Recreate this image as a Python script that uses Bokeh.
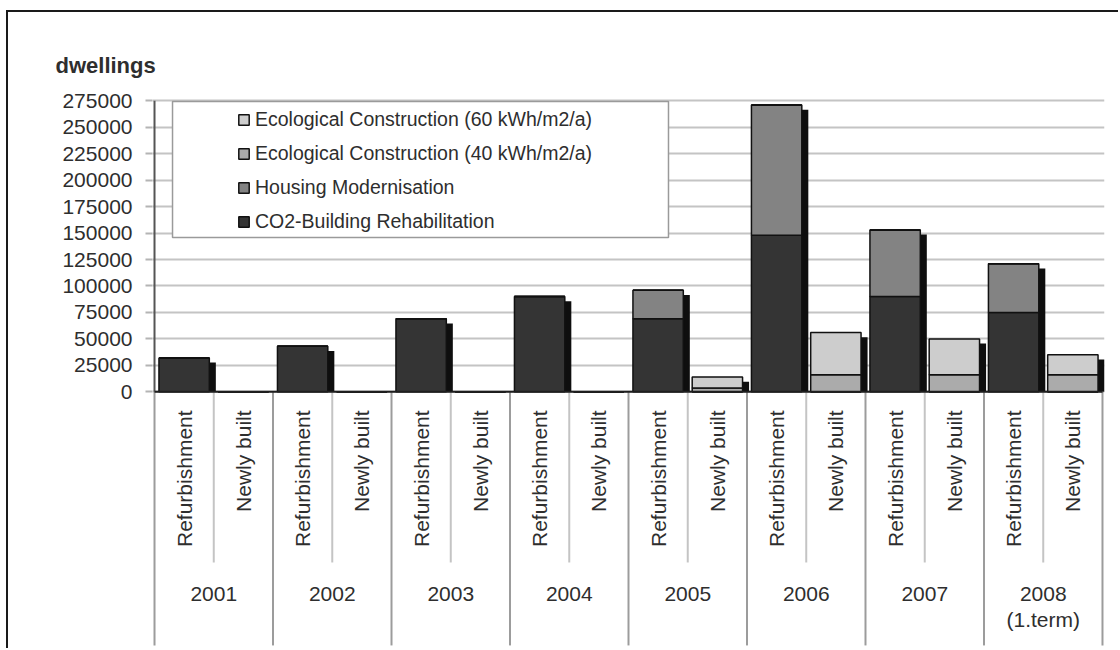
import numpy as np
from bokeh.plotting import figure
from bokeh.models import (ColumnDataSource, Range1d, FixedTicker, Legend, LegendItem,
                          NumeralTickFormatter)
from bokeh.core.properties import value
from bokeh.embed import file_html
from bokeh.resources import INLINE

# ---- data -------------------------------------------------------------
years = ["2001", "2002", "2003", "2004", "2005", "2006", "2007", "2008\n(1.term)"]
kinds = ["Refurbishment", "Newly built"]

co2_rehab = [32000, 43000, 69000, 90000, 69000, 148000, 90000, 75000]        # refurbishment
housing_mod = [0, 0, 0, 0, 27000, 123000, 63000, 46000]                       # refurbishment
eco_40 = [0, 0, 0, 0, 3500, 16000, 16000, 16000]                             # newly built
eco_60 = [0, 0, 0, 0, 10500, 40000, 34000, 19000]                            # newly built

series = ["co2", "housing", "eco40", "eco60"]
series_labels = {
    "co2": "CO2-Building Rehabilitation",
    "housing": "Housing Modernisation",
    "eco40": "Ecological Construction (40 kWh/m2/a)",
    "eco60": "Ecological Construction (60 kWh/m2/a)",
}
colors = {"co2": "#343434", "housing": "#838383", "eco40": "#ababab", "eco60": "#cdcdcd"}
y_ticks = list(range(0, 275001, 25000))

# ---- table: two bars per year -----------------------------------------
n = len(years)
xs, labels = [], []
cols = {s: [] for s in series}
for i in range(n):
    for j, k in enumerate(kinds):
        xs.append(2 * i + j + 0.5)
        labels.append(k)
        ref = (j == 0)
        cols["co2"].append(co2_rehab[i] if ref else 0)
        cols["housing"].append(housing_mod[i] if ref else 0)
        cols["eco40"].append(0 if ref else eco_40[i])
        cols["eco60"].append(0 if ref else eco_60[i])

total = np.sum([cols[s] for s in series], axis=0)
source = ColumnDataSource(dict(x=xs, **cols))

# drop shadow behind each bar (offset right and down)
shadow_dx, shadow_dy = 0.11, 4400
has_bar = total > 0
shadow = ColumnDataSource(dict(
    x=[x + shadow_dx for x, h in zip(xs, has_bar) if h],
    top=[t - shadow_dy for t, h in zip(total, has_bar) if h],
))

FONT = "Liberation Sans"
TXT = "#2e2e2e"

p = figure(width=1112, height=638,
           x_range=Range1d(-0.034, 16.034), y_range=Range1d(-242600, 284750),
           output_backend="svg", toolbar_location=None, x_axis_location=None,
           min_border_left=144, min_border_right=16, min_border_top=78, min_border_bottom=2)
p.margin = (10, 0, 0, 6)
p.styles = {"border-left": "2px solid #1a1a1a", "border-top": "2px solid #1a1a1a"}
p.outline_line_color = None
p.background_fill_color = "white"
p.border_fill_color = "white"
p.xgrid.visible = False

p.title.text = "dwellings"
p.title.text_font = FONT
p.title.text_font_style = "bold"
p.title.text_font_size = "22px"
p.title.text_color = TXT
p.title.align = "left"
p.title.offset = -97
p.title.standoff = 26

# y axis
yax = p.yaxis[0]
yax.ticker = FixedTicker(ticks=y_ticks)
yax.formatter = NumeralTickFormatter(format="0")
yax.axis_line_color = None
yax.major_tick_line_color = "#b4b4b4"
yax.major_tick_line_width = 2
yax.major_tick_out = 7
yax.major_tick_in = 0
yax.minor_tick_line_color = None
yax.major_label_standoff = 13
yax.major_label_text_font = FONT
yax.major_label_text_font_size = "21px"
yax.major_label_text_color = TXT
p.ygrid.grid_line_color = "#c4c4c4"
p.ygrid.grid_line_width = 2

# legend frame
p.quad(left=[0.304], right=[8.675], bottom=[145820], top=[274350],
       fill_color="white", line_color="#9a9a9a", line_width=1.5)

# shadows and bars
p.vbar(x="x", top="top", bottom=0, width=0.85, source=shadow,
       fill_color="#0e0e0e", line_color=None)
bars = p.vbar_stack(series, x="x", width=0.85, source=source,
                    color=[colors[s] for s in series],
                    line_color="#111111", line_width=1.5)
rend = dict(zip(series, bars))

# axis line, baseline and category separators
p.segment(x0=[0], y0=[0], x1=[0], y1=[y_ticks[-1]], line_color="#555555", line_width=2)
inner_x = [2 * i + 1 for i in range(n)]
outer_x = [2 * i for i in range(n + 1)]
p.segment(x0=inner_x, y0=[0] * n, x1=inner_x, y1=[-161300] * n,
          line_color="#c4c4c4", line_width=2)
p.segment(x0=outer_x, y0=[0] * (n + 1), x1=outer_x, y1=[-239700] * (n + 1),
          line_color="#9c9c9c", line_width=2)
p.segment(x0=[0], y0=[0], x1=[2 * n], y1=[0], line_color="#1e1e1e", line_width=2)

# category labels
p.text(x=xs, y=[-17600] * len(xs), text=labels, angle=np.pi / 2,
       text_align="right", text_baseline="middle",
       text_font=value(FONT), text_font_size="21px", text_color=TXT)

# year labels (second line, where present, set just below the first)
first_lines = [y.split("\n")[0] for y in years]
sub_x = [x for x, y in zip(inner_x, years) if "\n" in y]
sub_lines = [y.split("\n")[1] for y in years if "\n" in y]
p.text(x=inner_x, y=[-191400] * n, text=first_lines,
       text_align="center", text_baseline="middle",
       text_font=value(FONT), text_font_size="21px", text_color=TXT)
p.text(x=sub_x, y=[-215000] * len(sub_x), text=sub_lines,
       text_align="center", text_baseline="middle",
       text_font=value(FONT), text_font_size="21px", text_color=TXT)

legend = Legend(items=[LegendItem(label=series_labels[s], renderers=[rend[s]])
                       for s in ["eco60", "eco40", "housing", "co2"]],
                location=(85, 415), orientation="vertical",
                border_line_color=None, background_fill_alpha=0,
                padding=5, margin=0, spacing=10, label_height=24,
                glyph_width=13, glyph_height=13, label_standoff=5,
                label_text_font=FONT, label_text_font_size="19.5px",
                label_text_color=TXT)
p.add_layout(legend)

open("out.html", "w").write(file_html(p, INLINE))
